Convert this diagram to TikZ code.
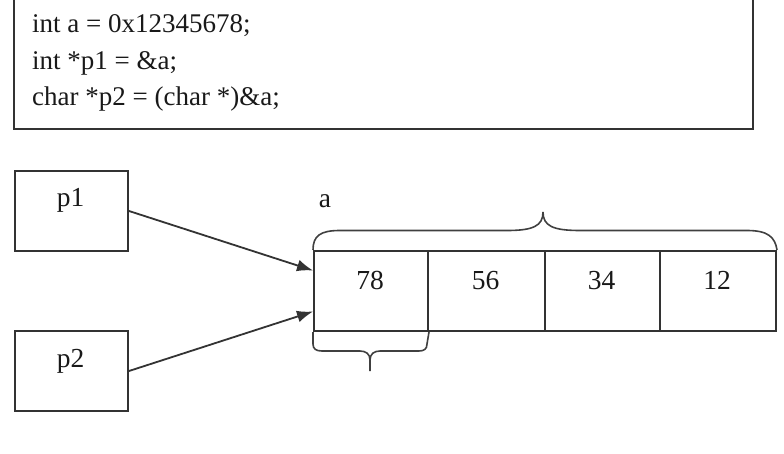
\documentclass[tikz,border=0pt]{standalone}
\usepackage{fontspec}
\setmainfont{Liberation Serif}
\usetikzlibrary{arrows.meta,calc}
\begin{document}
\begin{tikzpicture}[x=1pt,y=-1pt,
  box/.style={draw=black!80, line width=2pt, inner sep=0pt, anchor=north west},
  codetxt/.style={font=\fontsize{27}{30}\selectfont, anchor=base west, inner sep=0pt, text=black!90},
  lbl/.style={font=\fontsize{27.5}{30}\selectfont, anchor=base, inner sep=0pt, text=black!90},
  arr/.style={draw=black!80, line width=1.8pt, -{Latex[length=16pt,width=12pt]}},
  brc/.style={draw=black!75, line width=1.6pt}]
\useasboundingbox (0,0) rectangle (784,454);
% code box
\node[box, minimum width=739pt, minimum height=133pt] (code) at (13,-5) {};
\node[codetxt] (l1) at (32,33) {int a = 0x12345678;};
\node[codetxt] (l2) at (32,70) {int *p1 = \&a;};
\node[codetxt] (l3) at (32,106) {char *p2 = (char *)\&a;};
% pointer boxes
\node[box, minimum width=113pt, minimum height=80pt] (p1) at (14,170) {};
\node[lbl] (p1t) at (70.5,207) {p1};
\node[box, minimum width=113pt, minimum height=80pt] (p2) at (14,330) {};
\node[lbl] (p2t) at (70.5,367) {p2};
% memory cells
\node[box, minimum width=114pt, minimum height=80pt] (c1) at (313,250) {};
\node[box, minimum width=117pt, minimum height=80pt] (c2) at (427,250) {};
\node[box, minimum width=115pt, minimum height=80pt] (c3) at (544,250) {};
\node[box, minimum width=116pt, minimum height=80pt] (c4) at (659,250) {};
\node[lbl] (t1) at (370,289) {78};
\node[lbl] (t2) at (485.5,289) {56};
\node[lbl] (t3) at (601.5,289) {34};
\node[lbl] (t4) at (717,289) {12};
\node[lbl] (a) at (325,208) {a};
% arrows
\coordinate (in1) at ($(c1.north west)!0.25!(c1.south west)$);
\coordinate (in2) at ($(c1.north west)!0.75!(c1.south west)$);
\draw[arr] (p1.east) -- (in1);
\draw[arr] (p2.east) -- (in2);
% top brace
\draw[brc] (c1.north west) .. controls (313,236) and (320,230.5) .. (340,230.5)
  -- (507,230.5) .. controls (533,230.5) and (543,226) .. (543,212)
  .. controls (543,226) and (553,230.5) .. (580,230.5)
  -- (747,230.5) .. controls (768,230.5) and (775,237) .. (c4.north east);
% bottom brace
\draw[brc] (c1.south west) -- (313,344) .. controls (313,349) and (316,351) .. (322,351)
  -- (360,351) .. controls (366,351) and (370,354) .. (370,360) -- (370,371);
\draw[brc] (370,360) .. controls (370,354) and (374,351) .. (380,351)
  -- (419,351) .. controls (424,351) and (427,349) .. (427,344) -- (c1.south east);
\end{tikzpicture}
\end{document}
